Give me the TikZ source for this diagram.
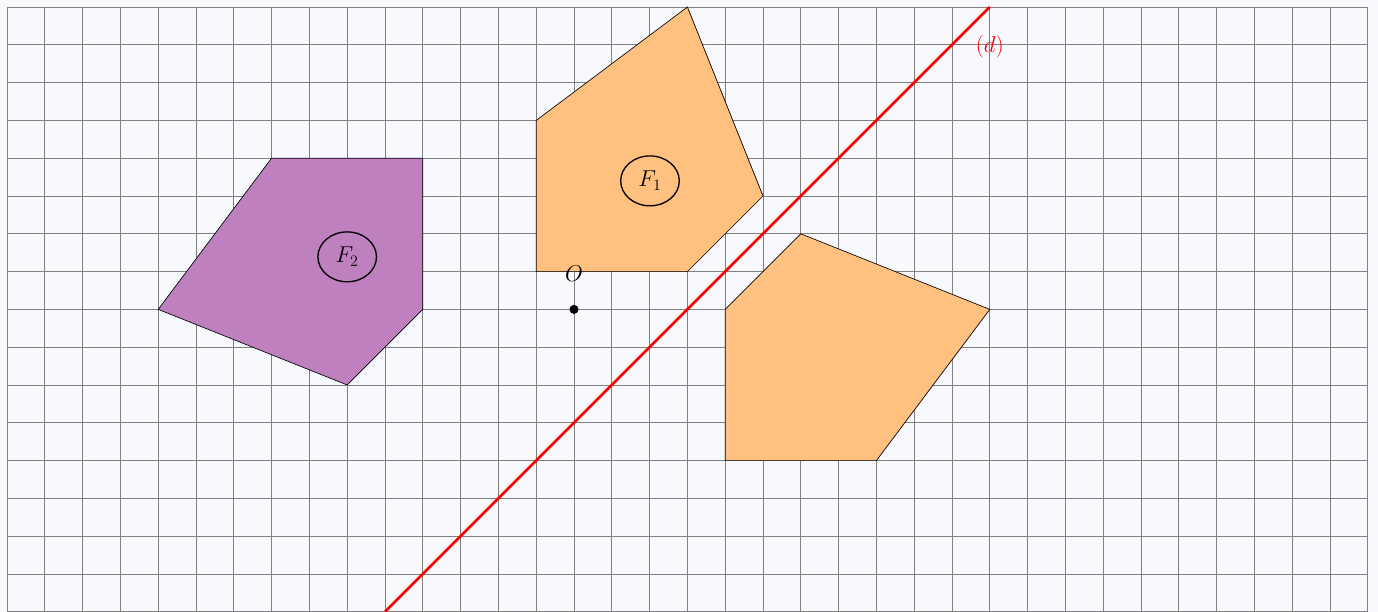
\documentclass[tikz,border=0pt]{standalone}
\usepackage{tikz}
\usetikzlibrary{shapes.geometric}
\definecolor{bgcol}{HTML}{F8F8FF}
\definecolor{orangefill}{HTML}{FFC080}
\definecolor{purplefill}{HTML}{BF80BF}
\definecolor{gridcol}{HTML}{808080}
\tikzset{
  gridline/.style={draw=gridcol, line width=0.6pt},
  poly/.style={draw=black, line width=0.5pt},
  lbl/.style={ellipse, draw=black, line width=1pt, minimum width=1.55cm, minimum height=1.32cm, inner sep=0pt, font=\LARGE},
  ptlabel/.style={font=\LARGE, inner sep=0pt},
  axisline/.style={draw=red, line width=2pt},
}
\begin{document}
\begin{tikzpicture}
\fill[bgcol] (-0.185,0) rectangle (36.27,16.185);
\useasboundingbox (-0.185,0) rectangle (36.27,16.185);
\draw[gridline] (0,0) grid (36,16);
% F2
\filldraw[poly, fill=purplefill] (4,8) -- (7,12) -- (11,12) -- (11,8) -- (9,6) -- cycle;
% F1
\filldraw[poly, fill=orangefill] (14,9) -- (14,13) -- (18,16) -- (20,11) -- (18,9) -- cycle;
% image of F1
\filldraw[poly, fill=orangefill] (19,8) -- (21,10) -- (26,8) -- (23,4) -- (19,4) -- cycle;
% line d
\coordinate (d1) at (10,0);
\coordinate (d2) at (26,16);
\draw[axisline] (d1) -- (d2);
\node[ptlabel, text=red] (dlab) at (26,14.95) {$(d)$};
% labels
\node[lbl] (F1) at (17.01,11.4) {$F_1$};
\node[lbl] (F2) at (9,9.39) {$F_2$};
\coordinate (O) at (15,8);
\fill[black] (O) circle (0.12);
\node[ptlabel] (Olab) at (15,8.95) {$O$};
\end{tikzpicture}
\end{document}
